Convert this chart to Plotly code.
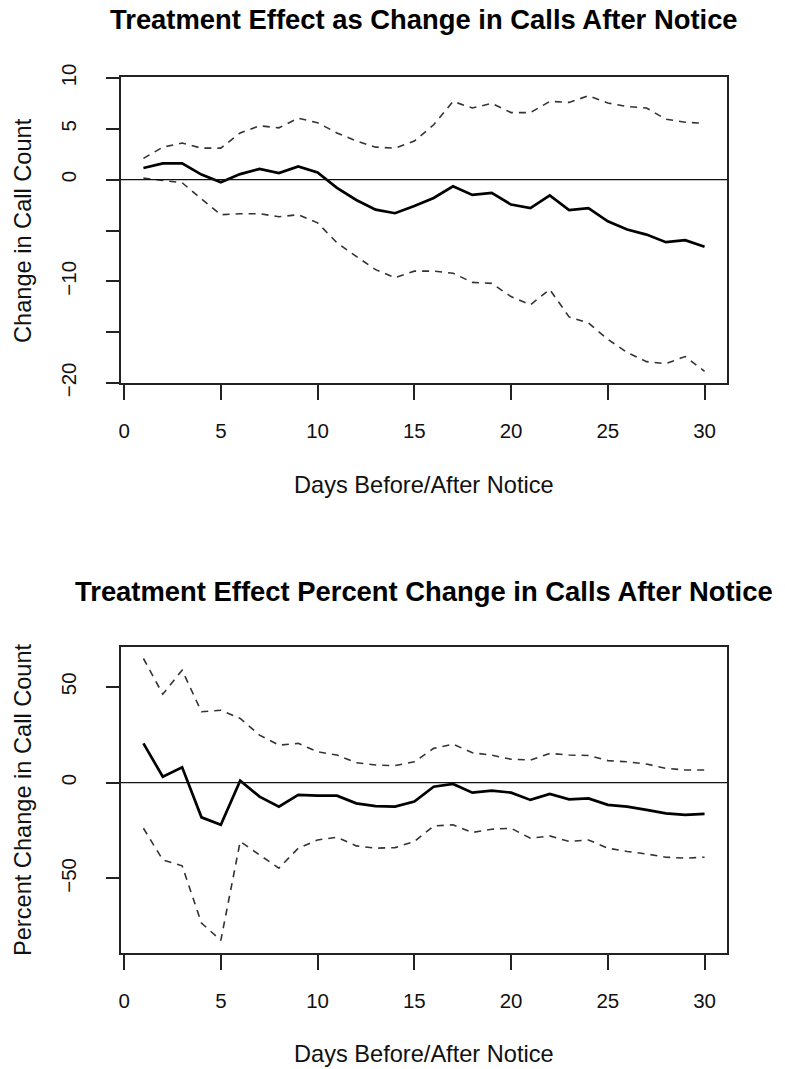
import plotly.graph_objects as go

days = list(range(1, 31))

# Panel 1: change in call count
count_est = [1.15, 1.6, 1.6, 0.5, -0.25, 0.55, 1.05, 0.65, 1.3, 0.7,
             -0.8, -2.0, -2.95, -3.3, -2.6, -1.8, -0.65, -1.5, -1.3, -2.45,
             -2.8, -1.55, -3.0, -2.8, -4.1, -4.9, -5.4, -6.15, -5.95, -6.6]
count_upper = [2.1, 3.2, 3.6, 3.1, 3.1, 4.6, 5.3, 5.1, 6.05, 5.6,
               4.6, 3.8, 3.2, 3.1, 3.8, 5.4, 7.7, 7.05, 7.5, 6.6,
               6.6, 7.7, 7.6, 8.25, 7.55, 7.2, 7.05, 5.95, 5.65, 5.55]
count_lower = [0.15, -0.05, -0.3, -1.9, -3.45, -3.35, -3.35, -3.65, -3.45, -4.25,
               -6.2, -7.55, -8.85, -9.65, -9.0, -9.0, -9.2, -10.1, -10.2, -11.5,
               -12.3, -10.8, -13.5, -14.1, -15.7, -17.0, -17.9, -18.1, -17.4, -18.85]

# Panel 2: percent change in call count
pct_est = [20.5, 3.1, 8.0, -18.1, -22.0, 1.0, -7.3, -12.5, -6.4, -6.8,
           -6.8, -10.8, -12.2, -12.5, -9.9, -2.1, -0.7, -5.2, -4.2, -5.2,
           -9.0, -5.9, -8.7, -8.2, -11.6, -12.5, -14.2, -16.0, -16.8, -16.3]
pct_upper = [64.8, 46.2, 58.7, 37.0, 37.8, 33.5, 24.8, 19.6, 20.5, 16.1,
             14.4, 10.4, 9.2, 8.9, 10.9, 17.9, 20.1, 15.6, 14.4, 12.2,
             11.8, 15.3, 14.4, 14.2, 11.5, 10.9, 9.7, 7.5, 6.6, 6.6]
pct_lower = [-23.8, -40.3, -43.4, -73.3, -82.3, -30.7, -37.7, -44.6, -34.2, -29.9,
             -28.5, -33.0, -34.2, -33.9, -30.7, -22.6, -22.0, -26.0, -24.3, -23.8,
             -29.0, -27.8, -30.7, -29.9, -34.2, -35.9, -37.2, -38.9, -39.4, -38.9]

x_ticks = [0, 5, 10, 15, 20, 25, 30]
count_ticks = [10, 5, 0, -5, -10, -15, -20]
count_ticktext = ["10", "5", "0", "", "\u221210", "", "\u221220"]
pct_ticks = [50, 0, -50]
pct_ticktext = ["50", "0", "\u221250"]

titles = ["Treatment Effect as Change in Calls After Notice",
          "Treatment Effect Percent Change in Calls After Notice"]
xlabel = "Days Before/After Notice"
ylabels = ["Change in Call Count", "Percent Change in Call Count"]

W, H = 785, 1069
FONT = "Liberation Sans, Arial, Helvetica, sans-serif"

fig = go.Figure()

def add_panel(est, up, lo, xa, ya):
    for s in (up, lo):
        fig.add_trace(go.Scatter(x=days, y=s, mode="lines", xaxis=xa, yaxis=ya,
                                 line=dict(color="#333333", width=1.6, dash="7px,6px"),
                                 showlegend=False, hoverinfo="skip"))
    fig.add_trace(go.Scatter(x=days, y=est, mode="lines", xaxis=xa, yaxis=ya,
                             line=dict(color="#000000", width=2.7),
                             showlegend=False))

add_panel(count_est, count_upper, count_lower, "x", "y")
add_panel(pct_est, pct_upper, pct_lower, "x2", "y2")

def px_x(px):
    return px / W

def px_y(py):
    return 1 - py / H

xdom = [px_x(121), px_x(727)]
common_x = dict(range=[-0.16, 31.16], tickvals=x_ticks, ticks="outside", ticklen=15,
                tickwidth=1.5, tickcolor="#222", showline=True, linecolor="#222",
                linewidth=1.5, mirror=True, showgrid=False, zeroline=False,
                tickfont=dict(family=FONT, size=20.5, color="#111"),
                ticklabelstandoff=14, domain=xdom)
common_y = dict(ticks="outside", ticklen=13, tickwidth=1.5, tickcolor="#222",
                showline=True, linecolor="#222", linewidth=1.5, mirror=True,
                showgrid=False, zeroline=False, tickangle=-90,
                tickfont=dict(family=FONT, size=20.5, color="#111"),
                ticklabelstandoff=22)

fig.update_layout(
    width=W, height=H, margin=dict(l=0, r=0, t=0, b=0, autoexpand=False),
    paper_bgcolor="white", plot_bgcolor="white",
    xaxis=dict(common_x, anchor="y"),
    yaxis=dict(common_y, range=[-20.0, 10.1], tickvals=count_ticks,
               ticktext=count_ticktext, domain=[px_y(383), px_y(77)], anchor="x"),
    xaxis2=dict(common_x, anchor="y2"),
    yaxis2=dict(common_y, range=[-88.9, 70.8], tickvals=pct_ticks,
                ticktext=pct_ticktext, domain=[px_y(953), px_y(647)], anchor="x2"),
)

# zero reference lines
for xr, yr in (("x", "y"), ("x2", "y2")):
    fig.add_shape(type="line", xref=xr + " domain", yref=yr, x0=0, x1=1, y0=0, y1=0,
                  line=dict(color="#111", width=1.2))

annos = []
for title, ty in zip(titles, [20, 591]):
    annos.append(dict(text="<b>" + title + "</b>", x=px_x(424), y=px_y(ty), xref="paper",
                      yref="paper", xanchor="center", yanchor="middle", showarrow=False,
                      font=dict(family=FONT, size=27.4, color="#000")))
for xy in [485, 1054]:
    annos.append(dict(text=xlabel, x=px_x(424), y=px_y(xy), xref="paper", yref="paper",
                      xanchor="center", yanchor="middle", showarrow=False,
                      font=dict(family=FONT, size=23.6, color="#111")))
for lab, cy in zip(ylabels, [231, 800]):
    annos.append(dict(text=lab, x=px_x(23), y=px_y(cy), xref="paper", yref="paper",
                      xanchor="center", yanchor="middle", textangle=-90, showarrow=False,
                      font=dict(family=FONT, size=23.6, color="#111")))
fig.update_layout(annotations=annos)

# remove the default 8px page margin so the figure fills the window exactly
fig.write_html("out.html", config={"displayModeBar": False},
               post_script="document.body.style.margin='0';document.body.style.overflow='hidden';")
